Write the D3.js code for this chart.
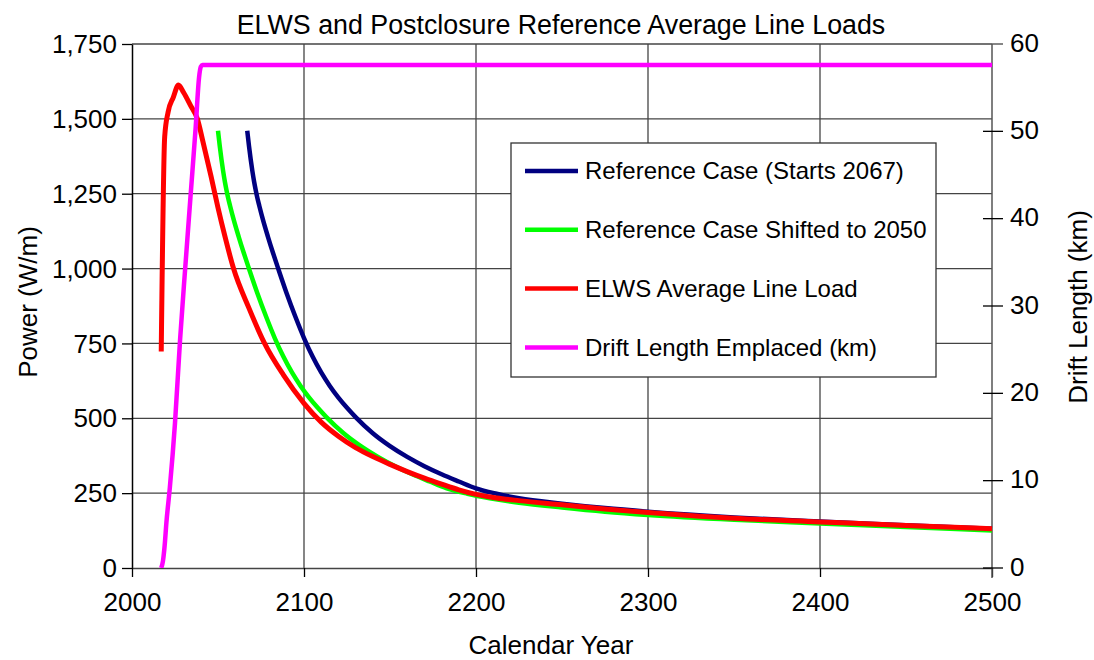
<!DOCTYPE html>
<html>
<head>
<meta charset="utf-8">
<script src="https://cdn.jsdelivr.net/npm/d3@7"></script>
<style>
  body { margin: 0; background: #fff; }
  text { font-family: "Liberation Sans", Arial, sans-serif; fill: #000; }
</style>
</head>
<body>
<svg id="chart" width="1094" height="660"></svg>
<script>
// Reference case line load (starts 2067), W/m
const refYears = [2067, 2068, 2069, 2070, 2071, 2072, 2073, 2074, 2076, 2079, 2082, 2085, 2090, 2095, 2100, 2105, 2110, 2115, 2120, 2125, 2130, 2140, 2150, 2160, 2170, 2180, 2190, 2200, 2212, 2225, 2250, 2275, 2300, 2350, 2400, 2450, 2500];
const refPower = [1460, 1410, 1365, 1325, 1290, 1260, 1233, 1210, 1166, 1107, 1052, 1000, 916, 839, 768, 706, 653, 608, 569, 535, 504, 450, 407, 371, 340, 313, 289, 266, 248, 233, 215, 200, 188, 169, 155, 143, 131];

// Reference case shifted to 2050, W/m
const shiftYears = [2050, 2051, 2052, 2053, 2054, 2055, 2056, 2057, 2059, 2062, 2065, 2068, 2073, 2078, 2083, 2088, 2093, 2098, 2103, 2108, 2113, 2123, 2133, 2143, 2153, 2163, 2173, 2183, 2195, 2208, 2225, 2250, 2275, 2300, 2350, 2400, 2450, 2500];
const shiftPower = [1460, 1410, 1365, 1325, 1290, 1260, 1233, 1210, 1166, 1107, 1052, 1000, 916, 839, 768, 706, 653, 608, 569, 535, 504, 450, 407, 371, 340, 313, 289, 266, 248, 233, 218, 202, 188, 177, 161, 149, 137, 125];

// ELWS average line load, W/m
const elwsYears = [2017, 2019, 2021, 2024, 2027, 2030, 2034, 2038, 2041, 2046, 2050, 2054, 2059, 2068, 2077, 2088, 2100, 2110, 2120, 2130, 2140, 2150, 2160, 2170, 2180, 2190, 2200, 2212, 2225, 2250, 2275, 2300, 2330, 2350, 2400, 2450, 2500];
const elwsPower = [723, 1440, 1523, 1572, 1613, 1588, 1545, 1500, 1430, 1307, 1203, 1108, 1001, 868, 751, 645, 550, 487, 440, 402, 372, 346, 322, 300, 280, 261, 246, 234, 225, 211, 197, 185, 173, 166, 154, 142, 131];

// Drift length emplaced, km (right axis)
const driftYears = [2017, 2018, 2019, 2020, 2022, 2025, 2028, 2031, 2034, 2037, 2039, 2040, 2041, 2500];
const driftKm = [0, 0.8, 2.6, 5.2, 9.2, 16.6, 26.3, 34.5, 42.5, 50.4, 56.2, 57.4, 57.6, 57.6];

// Axis ticks
const yearTicks = [2000, 2100, 2200, 2300, 2400, 2500];
const powerTicks = [0, 250, 500, 750, 1000, 1250, 1500, 1750];
const kmTicks = [0, 10, 20, 30, 40, 50, 60];

const seriesNames = ["Reference Case (Starts 2067)", "Reference Case Shifted to 2050", "ELWS Average Line Load", "Drift Length Emplaced (km)"];
const seriesColors = ["#000080", "#00ff00", "#ff0000", "#ff00ff"];

const svg = d3.select("#chart");
const plotLeft = 132, plotRight = 992, plotTop = 44, plotBottom = 568;

const x = d3.scaleLinear().domain([2000, 2500]).range([plotLeft, plotRight]);
const y = d3.scaleLinear().domain([0, 1750]).range([plotBottom, plotTop]);
const y2 = d3.scaleLinear().domain([0, 60]).range([plotBottom, plotTop]);

// Grid lines
const grid = svg.append("g").attr("stroke", "#444").attr("stroke-width", 1.3);
grid.selectAll(".hg").data(powerTicks.filter(d => d > 0)).join("line")
  .attr("x1", plotLeft).attr("x2", plotRight)
  .attr("y1", d => y(d)).attr("y2", d => y(d));
grid.selectAll(".vg").data(yearTicks.filter(d => d > 2000 && d < 2500)).join("line")
  .attr("x1", d => x(d)).attr("x2", d => x(d))
  .attr("y1", plotTop).attr("y2", plotBottom);
// top border continues out to the 60 km tick
grid.append("line").attr("x1", plotRight).attr("x2", plotRight + 11).attr("y1", plotTop).attr("y2", plotTop);

// Left axis
const yAxis = d3.axisLeft(y).tickValues(powerTicks).tickFormat(d3.format(",")).tickSize(10).tickSizeOuter(0).tickPadding(5);
const gy = svg.append("g").attr("transform", `translate(${plotLeft},0)`).call(yAxis);
gy.select(".domain").attr("stroke", "#000").attr("stroke-width", 1.5);
gy.selectAll(".tick line").attr("stroke", "#000").attr("stroke-width", 1.3);
gy.selectAll(".tick text").style("font-size", "26px").attr("dy", "0.33em");

// Bottom axis
const xAxis = d3.axisBottom(x).tickValues(yearTicks).tickFormat(d3.format("d")).tickSize(9).tickSizeOuter(0).tickPadding(16);
const gx = svg.append("g").attr("transform", `translate(0,${plotBottom})`).call(xAxis);
gx.select(".domain").attr("stroke", "#444").attr("stroke-width", 1.5);
gx.selectAll(".tick line").attr("stroke", "#000").attr("stroke-width", 1.3);
gx.selectAll(".tick text").style("font-size", "26px");

// Right axis (ticks cross the axis line)
const gr = svg.append("g").attr("transform", `translate(${plotRight},0)`);
gr.append("line").attr("y1", plotTop).attr("y2", plotBottom + 10).attr("stroke", "#555").attr("stroke-width", 1.5);
gr.selectAll(".rt").data(kmTicks.filter(d => d < 60)).join("line")
  .attr("x1", -9).attr("x2", 11)
  .attr("y1", d => y2(d)).attr("y2", d => y2(d))
  .attr("stroke", "#000").attr("stroke-width", 1.3);
gr.selectAll(".rl").data(kmTicks).join("text")
  .attr("x", 18).attr("y", d => y2(d)).attr("dy", "0.3em")
  .style("font-size", "26px")
  .text(d => d);

// Series
svg.append("clipPath").attr("id", "plot-clip")
  .append("rect").attr("x", plotLeft).attr("y", plotTop - 5)
  .attr("width", plotRight - plotLeft + 3).attr("height", plotBottom - plotTop + 5);

const linePower = d3.line().x(d => x(d[0])).y(d => y(d[1])).curve(d3.curveMonotoneX);
const lineKm = d3.line().x(d => x(d[0])).y(d => y2(d[1])).curve(d3.curveMonotoneX);

const plot = svg.append("g").attr("clip-path", "url(#plot-clip)").attr("fill", "none")
  .attr("stroke-linejoin", "round");

plot.append("path").datum(d3.zip(refYears, refPower)).attr("d", linePower)
  .attr("stroke", seriesColors[0]).attr("stroke-width", 4.5);
plot.append("path").datum(d3.zip(shiftYears, shiftPower)).attr("d", linePower)
  .attr("stroke", seriesColors[1]).attr("stroke-width", 4.5);
plot.append("path").datum(d3.zip(elwsYears, elwsPower)).attr("d", linePower)
  .attr("stroke", seriesColors[2]).attr("stroke-width", 5);
plot.append("path").datum(d3.zip(driftYears, driftKm)).attr("d", lineKm)
  .attr("stroke", seriesColors[3]).attr("stroke-width", 4.5);

// Legend
const lg = svg.append("g");
lg.append("rect").attr("x", 511).attr("y", 143).attr("width", 425).attr("height", 234)
  .attr("fill", "#fff").attr("stroke", "#333").attr("stroke-width", 1.3);
const items = lg.selectAll(".item").data(seriesNames).join("g")
  .attr("transform", (d, i) => `translate(525,${171 + i * 58.8})`);
items.append("line").attr("x1", 0).attr("x2", 53).attr("y1", 0).attr("y2", 0)
  .attr("stroke", (d, i) => seriesColors[i]).attr("stroke-width", 4.5);
items.append("text").attr("x", 60).attr("dy", "0.35em").style("font-size", "24px").text(d => d);

// Titles
svg.append("text").attr("x", 561).attr("y", 34).attr("text-anchor", "middle")
  .style("font-size", "26.8px").text("ELWS and Postclosure Reference Average Line Loads");
svg.append("text").attr("x", 551).attr("y", 654).attr("text-anchor", "middle")
  .style("font-size", "26px").text("Calendar Year");
svg.append("text").attr("transform", "translate(37,302) rotate(-90)").attr("text-anchor", "middle")
  .style("font-size", "26px").text("Power (W/m)");
svg.append("text").attr("transform", "translate(1087,307) rotate(-90)").attr("text-anchor", "middle")
  .style("font-size", "26px").text("Drift Length (km)");
</script>
</body>
</html>
